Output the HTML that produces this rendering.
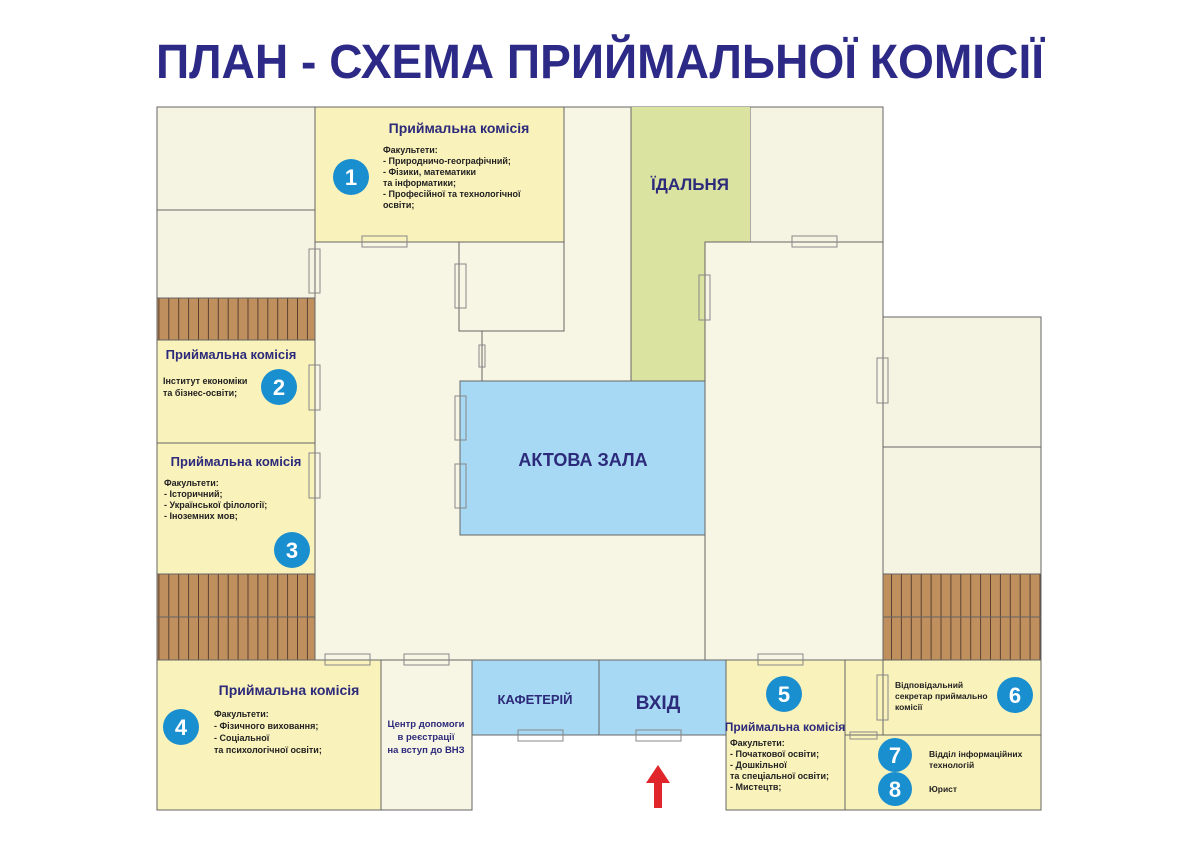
<!DOCTYPE html>
<html><head><meta charset="utf-8"><style>
html,body{margin:0;padding:0;background:#fff;width:1200px;height:847px;overflow:hidden}
svg{display:block}
text{font-family:"Liberation Sans",sans-serif;font-weight:bold}
</style></head><body>
<svg width="1200" height="847" viewBox="0 0 1200 847">
<defs>
<pattern id="st" width="9.9" height="100" patternUnits="userSpaceOnUse">
<rect width="9.9" height="100" fill="#bf8f5e"/><line x1="0.5" y1="0" x2="0.5" y2="100" stroke="#5a4030" stroke-width="1"/>
</pattern>
</defs>
<text x="600" y="78" text-anchor="middle" font-size="48" fill="#2c2a86" textLength="888" lengthAdjust="spacingAndGlyphs">ПЛАН - СХЕМА ПРИЙМАЛЬНОЇ КОМІСІЇ</text>
<g stroke="#666" stroke-width="1">
<!-- main hall -->
<rect x="157" y="107" width="726" height="553" fill="#f7f5e4"/>
<rect x="883" y="317" width="158" height="343" fill="#f7f5e4"/>
<rect x="157" y="107" width="158" height="103" fill="#f5f3e2"/>
<rect x="157" y="210" width="158" height="88" fill="#f5f3e2"/>
<rect x="157" y="298" width="158" height="42" fill="url(#st)"/>
<rect x="157" y="340" width="158" height="103" fill="#faf2bb"/>
<rect x="157" y="443" width="158" height="131" fill="#faf2bb"/>
<rect x="157" y="574" width="158" height="43" fill="url(#st)"/>
<rect x="157" y="617" width="158" height="43" fill="url(#st)"/>
<rect x="315" y="107" width="249" height="135" fill="#faf2bb"/>
<rect x="459" y="242" width="105" height="89" fill="#f7f5e4"/>
<line x1="482" y1="331" x2="482" y2="381"/>
<rect x="750" y="107" width="133" height="135" fill="#f5f3e2"/>
<rect x="631" y="107" width="119" height="135" fill="#dbe3a0" stroke="none"/>
<rect x="631" y="242" width="74" height="139" fill="#dbe3a0" stroke="none"/>
<polyline points="631,107 631,381" fill="none"/>
<rect x="705" y="242" width="178" height="418" fill="#f7f5e4"/>
<rect x="460" y="381" width="245" height="154" fill="#a8d9f4"/>
<rect x="883" y="317" width="158" height="130" fill="#f5f3e2"/>
<rect x="883" y="447" width="158" height="127" fill="#f5f3e2"/>
<rect x="883" y="574" width="158" height="43" fill="url(#st)"/>
<rect x="883" y="617" width="158" height="43" fill="url(#st)"/>
<rect x="157" y="660" width="224" height="150" fill="#faf2bb"/>
<rect x="381" y="660" width="91" height="150" fill="#f7f5e4"/>
<rect x="472" y="660" width="127" height="75" fill="#a8d9f4"/>
<rect x="599" y="660" width="127" height="75" fill="#a8d9f4"/>
<rect x="726" y="660" width="119" height="150" fill="#faf2bb"/>
<rect x="845" y="660" width="196" height="75" fill="#faf2bb"/>
<rect x="845" y="735" width="196" height="75" fill="#faf2bb"/>
<line x1="883" y1="660" x2="883" y2="735"/>
<!-- doors -->
<g fill="none" stroke="#888">
<rect x="362" y="236" width="45" height="11"/>
<rect x="309" y="249" width="11" height="44"/>
<rect x="455" y="264" width="11" height="44"/>
<rect x="479" y="345" width="6" height="22"/>
<rect x="455" y="396" width="11" height="44"/>
<rect x="455" y="464" width="11" height="44"/>
<rect x="309" y="365" width="11" height="45"/>
<rect x="309" y="453" width="11" height="45"/>
<rect x="699" y="275" width="11" height="45"/>
<rect x="792" y="236" width="45" height="11"/>
<rect x="877" y="358" width="11" height="45"/>
<rect x="325" y="654" width="45" height="11"/>
<rect x="404" y="654" width="45" height="11"/>
<rect x="518" y="730" width="45" height="11"/>
<rect x="636" y="730" width="45" height="11"/>
<rect x="758" y="654" width="45" height="11"/>
<rect x="877" y="675" width="11" height="45"/>
<rect x="850" y="732" width="27" height="7"/>
</g>
</g>
<g fill="#2c2a7a">
<text x="459" y="133" font-size="14" text-anchor="middle">Приймальна комісія</text>
<text x="231" y="359" font-size="13" text-anchor="middle">Приймальна комісія</text>
<text x="236" y="466" font-size="13" text-anchor="middle">Приймальна комісія</text>
<text x="289" y="695" font-size="14" text-anchor="middle">Приймальна комісія</text>
<text x="785" y="731" font-size="12" text-anchor="middle">Приймальна комісія</text>
<text x="690" y="190" font-size="17" text-anchor="middle">ЇДАЛЬНЯ</text>
<text x="583" y="466" font-size="18" text-anchor="middle">АКТОВА ЗАЛА</text>
<text x="535" y="704" font-size="13" text-anchor="middle">КАФЕТЕРІЙ</text>
<text x="658" y="709" font-size="19" text-anchor="middle">ВХІД</text>
<text font-size="9.5" text-anchor="middle"><tspan x="426" y="727">Центр допомоги</tspan><tspan x="426" y="740">в реєстрації</tspan><tspan x="426" y="753">на вступ до ВНЗ</tspan></text>
</g>
<g fill="#222" font-size="9">
<text><tspan x="383" y="153">Факультети:</tspan><tspan x="383" y="164">- Природничо-географічний;</tspan><tspan x="383" y="175">- Фізики, математики</tspan><tspan x="383" y="186">та інформатики;</tspan><tspan x="383" y="197">- Професійної та технологічної</tspan><tspan x="383" y="208">освіти;</tspan></text>
<text><tspan x="163" y="384">Інститут економіки</tspan><tspan x="163" y="396">та бізнес-освіти;</tspan></text>
<text><tspan x="164" y="486">Факультети:</tspan><tspan x="164" y="497">- Історичний;</tspan><tspan x="164" y="508">- Української філології;</tspan><tspan x="164" y="519">- Іноземних мов;</tspan></text>
<text><tspan x="214" y="717">Факультети:</tspan><tspan x="214" y="729">- Фізичного виховання;</tspan><tspan x="214" y="741">- Соціальної</tspan><tspan x="214" y="753">та психологічної освіти;</tspan></text>
<text><tspan x="730" y="746">Факультети:</tspan><tspan x="730" y="757">- Початкової освіти;</tspan><tspan x="730" y="768">- Дошкільної</tspan><tspan x="730" y="779">та спеціальної освіти;</tspan><tspan x="730" y="790">- Мистецтв;</tspan></text>
<text font-size="8.5"><tspan x="895" y="688">Відповідальний</tspan><tspan x="895" y="699">секретар приймально</tspan><tspan x="895" y="710">комісії</tspan></text>
<text font-size="8.5"><tspan x="929" y="757">Відділ інформаційних</tspan><tspan x="929" y="768">технологій</tspan></text>
<text x="929" y="792" font-size="8.5">Юрист</text>
</g>
<g fill="#1a8fd0">
<circle cx="351" cy="177" r="18"/><circle cx="279" cy="387" r="18"/><circle cx="292" cy="550" r="18"/>
<circle cx="181" cy="727" r="18"/><circle cx="784" cy="694" r="18"/><circle cx="1015" cy="695" r="18"/>
<circle cx="895" cy="755" r="17"/><circle cx="895" cy="789" r="17"/>
</g>
<g fill="#fff" font-size="22" text-anchor="middle">
<text x="351" y="185">1</text><text x="279" y="395">2</text><text x="292" y="558">3</text>
<text x="181" y="735">4</text><text x="784" y="702">5</text><text x="1015" y="703">6</text>
<text x="895" y="763">7</text><text x="895" y="797">8</text>
</g>
<polygon points="658,765 670,783 662,783 662,808 654,808 654,783 646,783" fill="#e0262b"/>
</svg>
</body></html>
